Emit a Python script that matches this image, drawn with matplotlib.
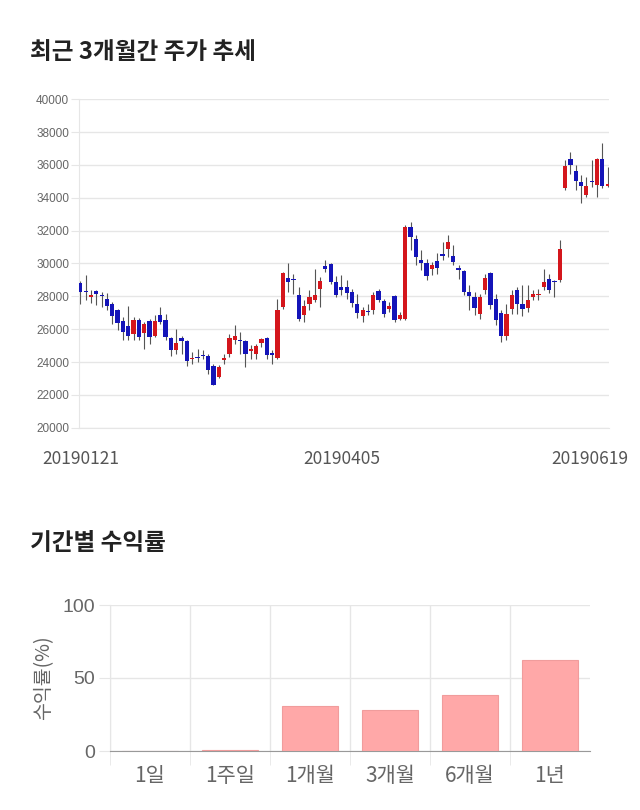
import matplotlib
matplotlib.use('Agg')
import matplotlib.pyplot as plt
from matplotlib.transforms import ScaledTranslation
import numpy as np

plt.rcParams['font.family'] = ['Noto Sans CJK KR', 'DejaVu Sans']

# daily candles 20190121 ~ 20190619
opens = [28840, 28300, 27940, 28310, 28100, 27820, 27560, 27150, 26480, 26190,
         25730, 26540, 25770, 26480, 25560, 26890, 26540, 25460, 24750, 25480,
         25260, 24170, 24300, 24450, 24340, 23750, 23080, 24100, 24510, 25360,
         25320, 25260, 24670, 24510, 25180, 25480, 24570, 24260, 27350, 29140,
         29080, 28060, 26840, 27560, 27760, 28430, 29870, 29950, 28880, 28570,
         28570, 28270, 27520, 26820, 27130, 27190, 28330, 27700, 27230, 28000,
         26600, 26600, 32230, 31480, 30200, 30060, 29650, 30140, 30590, 30870,
         30460, 29750, 29570, 28290, 27960, 26950, 28370, 29430, 27860, 26990,
         25560, 27250, 28370, 27520, 27290, 27960, 28060, 28570, 29040, 28920,
         28980, 34610, 36380, 35630, 34960, 34160, 35040, 34810, 36360, 34750]
closes = [28270, 28250, 28100, 28150, 28020, 27410, 26780, 26400, 25830, 25580,
          26540, 25520, 26340, 25520, 26480, 26440, 25520, 24710, 25160, 25280,
          24060, 24240, 24220, 24360, 23490, 22620, 23690, 24220, 25460, 25560,
          25260, 24510, 24790, 24970, 25380, 24410, 24410, 27150, 29430, 28880,
          29020, 26640, 27410, 27960, 28110, 28920, 29650, 28880, 28110, 28410,
          28230, 27620, 26990, 27190, 27070, 28060, 27760, 26910, 27430, 26580,
          26890, 32230, 31620, 30400, 30000, 29240, 29930, 29730, 30460, 31280,
          30100, 29630, 28250, 28020, 27290, 27960, 29120, 27500, 26580, 25560,
          26950, 28060, 27520, 27250, 27800, 28170, 28170, 28880, 28410, 28860,
          30910, 35930, 35970, 35020, 34750, 34710, 34940, 36360, 34750, 34860]
highs = [28950, 29280, 28410, 28410, 28270, 28230, 27660, 27250, 26740, 27390,
         26740, 26700, 26440, 26640, 26840, 27350, 26950, 25520, 26030, 25560,
         25320, 24610, 24810, 24710, 24510, 23900, 23800, 24510, 25730, 26240,
         25830, 25320, 25020, 25120, 25480, 25520, 24710, 27860, 29490, 30040,
         29390, 28570, 27760, 28370, 29690, 29180, 30240, 30000, 29220, 29280,
         28980, 28470, 28170, 27350, 27560, 28270, 28470, 27860, 27660, 28060,
         27050, 32330, 32540, 31720, 30810, 30300, 30100, 30610, 31320, 31720,
         31110, 29890, 29630, 28670, 28270, 28170, 29390, 29490, 28170, 27150,
         27560, 28370, 28570, 28670, 28670, 28370, 28470, 29690, 29390, 28980,
         31420, 36300, 36810, 35990, 35380, 35280, 36300, 36400, 37310, 35850]
lows = [27560, 27760, 27600, 27460, 27350, 27150, 26340, 25930, 25320, 25360,
        25320, 25320, 24810, 25080, 25520, 26340, 25320, 24340, 24510, 24510,
        23750, 23900, 24000, 24200, 23290, 22580, 23040, 23900, 24300, 25120,
        24510, 23690, 24200, 24200, 24910, 24200, 23900, 24200, 27250, 28270,
        28170, 26500, 26440, 27150, 27660, 27350, 29490, 28780, 27960, 28060,
        27860, 27350, 26700, 26440, 26840, 26950, 27660, 26740, 27050, 26440,
        26540, 26540, 30810, 29890, 29590, 28980, 29280, 29390, 30200, 30400,
        29890, 29080, 28060, 27150, 26840, 26640, 28170, 27250, 26240, 25220,
        25320, 26950, 26950, 26780, 27050, 27760, 27760, 28370, 28210, 27960,
        28880, 34470, 35480, 34470, 33660, 34060, 34670, 34020, 34570, 34670]
date_ticks = [0, 49, 99]
date_labels = ['20190121', '20190405', '20190619']

periods = ['1일', '1주일', '1개월', '3개월', '6개월', '1년']
returns = [0.0, 0.4, 30.9, 28.2, 38.6, 62.1]

fig = plt.figure(figsize=(6.4, 8.1), dpi=100)

# ---- top: candlestick chart ----
fig.text(30/640, 1-52/810, '최근 3개월간 주가 추세', fontsize=17,
         fontweight='bold', va='center', color='#222222')

ax = fig.add_axes([79/640, 1-427.7/810, 530/640, 328.4/810])
x = np.arange(len(opens))
o = np.array(opens)
c = np.array(closes)
colors = np.where(c >= o, '#d4161c', '#1414b8')
ax.vlines(x, lows, highs, color='#555555', linewidth=0.8, zorder=2)
ax.bar(x, np.maximum(np.abs(c - o), 60), bottom=np.minimum(o, c),
       width=0.8, color=colors, zorder=3)

ax.set_xlim(-0.25, 99.25)
ax.set_ylim(20000, 40000)
ax.set_yticks(range(20000, 40001, 2000))
ax.grid(axis='y', color='#e6e6e6', linewidth=1)
ax.set_axisbelow(True)
ax.tick_params(axis='y', length=6, color='#e6e6e6', labelsize=8.5,
               labelcolor='#666666', pad=1)
for lab in ax.get_yticklabels():
    lab.set_fontfamily('Liberation Sans')
ax.set_xticks(date_ticks, date_labels)
ax.tick_params(axis='x', length=0, pad=16, labelsize=12.5, labelcolor='#555555')
for s in ['top', 'right']:
    ax.spines[s].set_visible(False)
ax.spines['left'].set_color('#e6e6e6')
ax.spines['bottom'].set_color('#e6e6e6')
last = ax.get_xticklabels()[-1]
last.set_ha('right')
last.set_transform(last.get_transform() + ScaledTranslation(0.21, 0, fig.dpi_scale_trans))

# ---- bottom: returns by period ----
fig.text(30/640, 1-543/810, '기간별 수익률', fontsize=17,
         fontweight='bold', va='center', color='#222222')

bx = fig.add_axes([110/640, 1-751/810, 480/640, 146/810])
pos = np.arange(len(periods))
bx.bar(pos, returns, width=0.7, color='#ffa8a8', edgecolor='#f09c9c',
       linewidth=0.8, zorder=3)
bx.set_xlim(-0.5, 5.5)
bx.set_ylim(0, 100)
bx.set_yticks([0, 50, 100])
bx.grid(axis='y', color='#e6e6e6', linewidth=1)
bx.set_xticks(pos, periods)
bx.set_xticks(np.arange(-0.5, 5.0, 1), minor=True)
bx.grid(axis='x', which='minor', color='#e6e6e6', linewidth=1)
bx.set_axisbelow(True)
bx.tick_params(axis='x', which='major', length=0, pad=10, labelsize=15,
               labelcolor='#666666')
bx.tick_params(axis='x', which='minor', length=10, color='#e6e6e6')
bx.tick_params(axis='y', length=8, color='#e6e6e6', labelsize=14,
               labelcolor='#666666', pad=3)
for lab in bx.get_yticklabels():
    lab.set_fontfamily('Liberation Sans')
bx.set_ylabel('수익률(%)', fontsize=14, color='#666666', labelpad=6)
for s in ['top', 'right']:
    bx.spines[s].set_visible(False)
bx.spines['left'].set_color('#e6e6e6')
bx.spines['bottom'].set_color('#999999')

fig.savefig('out.png', dpi=100)
